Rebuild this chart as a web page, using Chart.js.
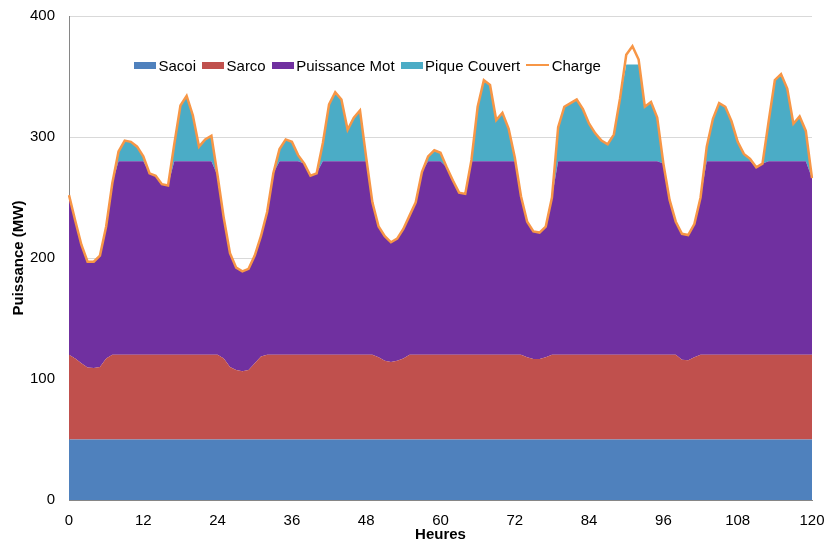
<!DOCTYPE html>
<html>
<head>
<meta charset="utf-8">
<script src="https://cdn.jsdelivr.net/npm/chart.js@4.4.0/dist/chart.umd.min.js"></script>
<style>
  body { margin: 0; background: #fff; }
  #wrap { position: relative; width: 830px; height: 545px; }
  #legend {
    position: absolute; left: 134px; top: 56px; height: 18px;
    display: flex; align-items: center;
    font: 15px "Liberation Sans", Arial, sans-serif; color: #000;
  }
  #legend .item { display: flex; align-items: center; margin-right: 6px; }
  #legend .box { width: 22px; height: 7px; margin-right: 2.5px; }
  #legend .line { width: 23px; height: 2.5px; margin-right: 2.5px; }
</style>
</head>
<body>
<div id="wrap">
  <canvas id="chart" width="830" height="545"></canvas>
  <div id="legend"></div>
</div>
<script>
// hours 0..120
const hours = Array.from({ length: 121 }, (_, i) => i);

const sacoi = [
  50, 50, 50, 50, 50, 50, 50, 50, 50, 50, 50, 50, 50, 50, 50, 50, 50, 50, 50, 50,
  50, 50, 50, 50, 50, 50, 50, 50, 50, 50, 50, 50, 50, 50, 50, 50, 50, 50, 50, 50,
  50, 50, 50, 50, 50, 50, 50, 50, 50, 50, 50, 50, 50, 50, 50, 50, 50, 50, 50, 50,
  50, 50, 50, 50, 50, 50, 50, 50, 50, 50, 50, 50, 50, 50, 50, 50, 50, 50, 50, 50,
  50, 50, 50, 50, 50, 50, 50, 50, 50, 50, 50, 50, 50, 50, 50, 50, 50, 50, 50, 50,
  50, 50, 50, 50, 50, 50, 50, 50, 50, 50, 50, 50, 50, 50, 50, 50, 50, 50, 50, 50,
  50
];

const sarco = [
  70, 67, 63, 59.5, 59, 60, 67, 70, 70, 70, 70, 70, 70, 70, 70, 70, 70, 70, 70, 70,
  70, 70, 70, 70, 70, 67, 60, 57.5, 56.5, 57.5, 63, 68.5, 70, 70, 70, 70, 70, 70, 70, 70,
  70, 70, 70, 70, 70, 70, 70, 70, 70, 70, 68, 65, 64, 65, 67, 70, 70, 70, 70, 70,
  70, 70, 70, 70, 70, 70, 70, 70, 70, 70, 70, 70, 70, 70, 68, 66.5, 66.5, 68, 70, 70,
  70, 70, 70, 70, 70, 70, 70, 70, 70, 70, 70, 70, 70, 70, 70, 70, 70, 70, 70, 66,
  65.5, 68, 70, 70, 70, 70, 70, 70, 70, 70, 70, 70, 70, 70, 70, 70, 70, 70, 70, 70,
  70
];

const puissanceMot = [
  132, 114, 98, 87.5, 88, 92, 109, 142, 160, 160, 160, 160, 160, 150, 148, 141, 140, 160, 160, 160,
  160, 160, 160, 160, 148, 116, 94, 84.5, 82.5, 83.5, 89, 99.5, 118, 150, 160, 160, 160, 160, 158, 148,
  150, 160, 160, 160, 160, 160, 160, 160, 160, 126, 108, 103, 99, 101, 107, 115, 126, 151, 160, 160,
  160, 155, 144, 134, 133, 160, 160, 160, 160, 160, 160, 160, 160, 131, 112, 105.5, 104.5, 108, 130, 160,
  160, 160, 160, 160, 160, 160, 160, 160, 160, 160, 160, 160, 160, 160, 160, 160, 158, 128, 110, 104,
  103.5, 110, 130, 160, 160, 160, 160, 160, 160, 160, 160, 155, 158, 160, 160, 160, 160, 160, 160, 160,
  146
];

const piqueCouvert = [
  0, 0, 0, 0, 0, 0, 0, 0, 8, 17, 16, 12, 4, 0, 0, 0, 0, 14, 46, 54,
  38, 12, 18, 21, 0, 0, 0, 0, 0, 0, 0, 0, 0, 0, 10, 18, 16, 5, 0, 0,
  0, 15, 47, 57, 51, 26, 36, 42, 3, 0, 0, 0, 0, 0, 0, 0, 0, 0, 4, 9,
  7, 0, 0, 0, 0, 1, 45, 67, 63, 34, 40, 27, 3, 0, 0, 0, 0, 0, 0, 28,
  45, 48, 51, 43, 31, 23, 17, 14, 22, 52, 80, 80, 80, 45, 49, 36, 0, 0, 0, 0,
  0, 0, 0, 12, 35, 48, 45, 33, 16, 6, 2, 0, 0, 33, 67, 72, 60, 31, 37, 25,
  0
];

const charge = [
  252, 231, 211, 197, 197, 202, 226, 262, 288, 297, 296, 292, 284, 270, 268, 261, 260, 294, 326, 334,
  318, 292, 298, 301, 268, 233, 204, 192, 189, 191, 202, 218, 238, 270, 290, 298, 296, 285, 278, 268,
  270, 295, 327, 337, 331, 306, 316, 322, 283, 246, 226, 218, 213, 216, 224, 235, 246, 271, 284, 289,
  287, 275, 264, 254, 253, 281, 325, 347, 343, 314, 320, 307, 283, 251, 230, 222, 221, 226, 250, 308,
  325, 328, 331, 323, 311, 303, 297, 294, 302, 332, 368, 375, 364, 325, 329, 316, 278, 248, 230, 220,
  219, 228, 250, 292, 315, 328, 325, 313, 296, 286, 282, 275, 278, 313, 347, 352, 340, 311, 317, 305,
  266
];

const yTicks = [0, 100, 200, 300, 400];

const FONT = '"Liberation Sans", Arial, sans-serif';

function area(label, data, color, fill) {
  return {
    label, data, fill,
    backgroundColor: color, borderColor: color, borderWidth: 0,
    pointRadius: 0, tension: 0, stack: 'prod'
  };
}

const datasets = [
  area('Sacoi', sacoi, '#4F81BD', 'origin'),
  area('Sarco', sarco, '#C0504D', '-1'),
  area('Puissance Mot', puissanceMot, '#7030A0', '-1'),
  area('Pique Couvert', piqueCouvert, '#4BACC6', '-1'),
  {
    label: 'Charge', data: charge, fill: false, stack: 'charge',
    borderColor: '#F79646', backgroundColor: '#F79646', borderWidth: 2.5,
    pointRadius: 0, tension: 0, order: -1
  }
];

new Chart(document.getElementById('chart'), {
  type: 'line',
  data: { labels: hours, datasets },
  options: {
    responsive: false,
    animation: false,
    layout: { padding: { top: 16, right: 18, bottom: 0, left: 0 } },
    plugins: { legend: { display: false }, tooltip: { enabled: false } },
    scales: {
      x: {
        offset: false,
        grid: { display: false, drawTicks: false },
        border: { display: true, color: '#868686', width: 1 },
        ticks: {
          autoSkip: false, maxRotation: 0, minRotation: 0, padding: 12,
          color: '#000', font: { family: FONT, size: 15 },
          callback: (v, i) => (i % 12 === 0 ? hours[i] : '')
        },
        title: {
          display: true, text: 'Heures', color: '#000',
          font: { family: FONT, size: 15, weight: 'bold' },
          padding: { top: 0, bottom: 1 }
        },
        afterFit: s => { s.height = 45; s.paddingLeft = 0; s.paddingRight = 0; }
      },
      y: {
        stacked: true,
        min: 0, max: 400,
        afterBuildTicks: s => { s.ticks = yTicks.map(v => ({ value: v })); },
        grid: { color: '#D9D9D9', drawTicks: false },
        border: { display: true, color: '#868686', width: 1 },
        ticks: { padding: 14, color: '#000', font: { family: FONT, size: 15 } },
        title: {
          display: true, text: 'Puissance (MW)', color: '#000',
          font: { family: FONT, size: 15, weight: 'bold' },
          padding: { top: 10, bottom: 0 }
        },
        afterFit: s => { s.width = 69; s.paddingTop = 0; s.paddingBottom = 0; }
      }
    }
  }
});

// legend drawn as html over the plot area
const legendEl = document.getElementById('legend');
datasets.forEach(ds => {
  const item = document.createElement('span');
  item.className = 'item';
  const mark = document.createElement('span');
  mark.className = ds.fill === false ? 'line' : 'box';
  mark.style.background = ds.fill === false ? ds.borderColor : ds.backgroundColor;
  const txt = document.createElement('span');
  txt.textContent = ds.label;
  item.appendChild(mark);
  item.appendChild(txt);
  legendEl.appendChild(item);
});
</script>
</body>
</html>
